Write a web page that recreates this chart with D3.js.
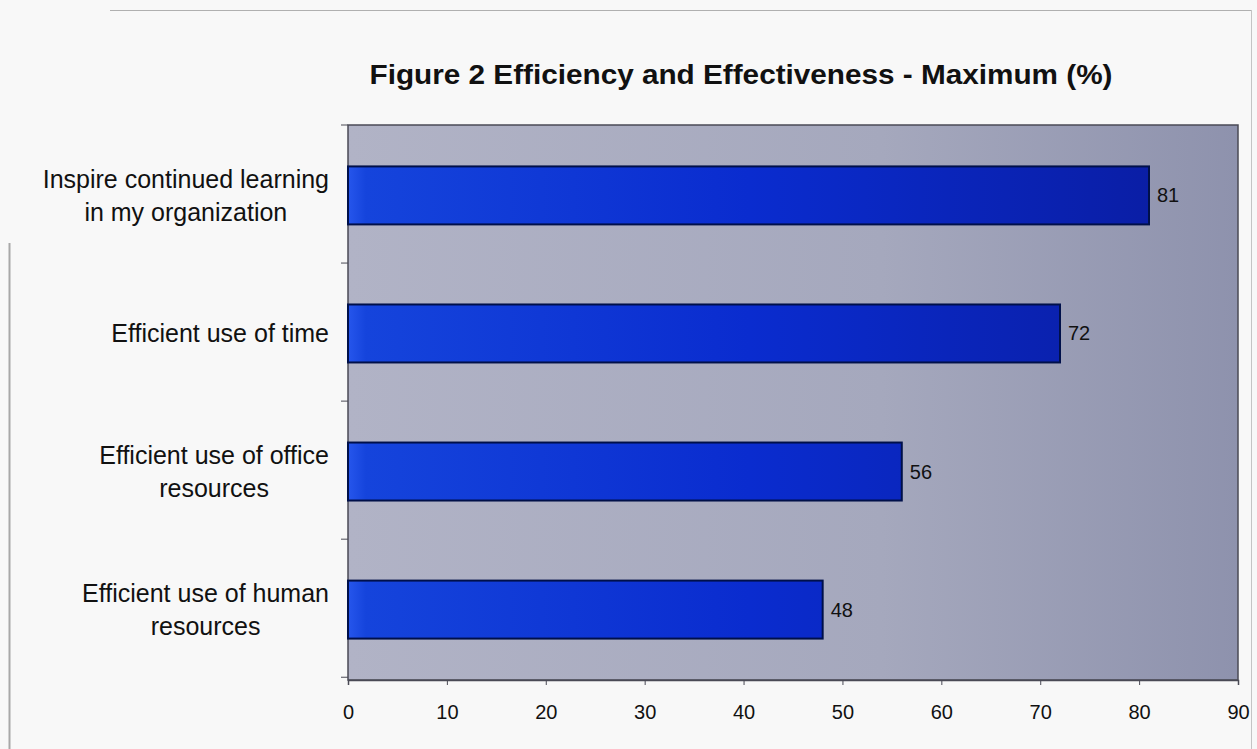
<!DOCTYPE html>
<html>
<head>
<meta charset="utf-8">
<script src="https://cdn.jsdelivr.net/npm/d3@7"></script>
<style>
  html, body { margin: 0; padding: 0; background: #f8f8f8; }
  svg { display: block; }
  text { font-family: "Liberation Sans", Arial, sans-serif; fill: #111; }
</style>
</head>
<body>
<svg id="chart" width="1257" height="749"></svg>
<script>
// Survey results: share of respondents rating each item at maximum
const categories = [
  ["Inspire continued learning", "in my organization"],
  ["Efficient use of time"],
  ["Efficient use of office", "resources"],
  ["Efficient use of human", "resources"]
];
const values = [81, 72, 56, 48];
const xTicks = [0, 10, 20, 30, 40, 50, 60, 70, 80, 90];
const title = "Figure 2 Efficiency and Effectiveness - Maximum (%)";

const plot = { left: 348, top: 125, right: 1238, bottom: 680 };

const svg = d3.select("#chart");
const defs = svg.append("defs");

const bgGrad = defs.append("linearGradient").attr("id", "bgGrad")
  .attr("x1", "0%").attr("x2", "100%").attr("y1", "0%").attr("y2", "0%");
bgGrad.append("stop").attr("offset", "0%").attr("stop-color", "#b1b3c6");
bgGrad.append("stop").attr("offset", "60%").attr("stop-color", "#a5a8bd");
bgGrad.append("stop").attr("offset", "100%").attr("stop-color", "#8e92ad");

const barGrad = defs.append("linearGradient").attr("id", "barGrad")
  .attr("gradientUnits", "userSpaceOnUse")
  .attr("x1", plot.left).attr("x2", plot.right).attr("y1", 0).attr("y2", 0);
barGrad.append("stop").attr("offset", "0%").attr("stop-color", "#2656ec");
barGrad.append("stop").attr("offset", "2%").attr("stop-color", "#1544dc");
barGrad.append("stop").attr("offset", "45%").attr("stop-color", "#0a2ccf");
barGrad.append("stop").attr("offset", "90%").attr("stop-color", "#0a1ea6");
barGrad.append("stop").attr("offset", "100%").attr("stop-color", "#081894");

// Outer frame of the figure
const frame = svg.append("g").attr("fill", "none");
frame.append("line").attr("x1", 110).attr("x2", 1252).attr("y1", 10.5).attr("y2", 10.5).attr("stroke", "#b0b0b0");
frame.append("line").attr("x1", 9.5).attr("x2", 9.5).attr("y1", 243).attr("y2", 749).attr("stroke", "#a8a8a8").attr("stroke-width", 2);
frame.append("line").attr("x1", 1251.5).attr("x2", 1251.5).attr("y1", 10).attr("y2", 749).attr("stroke", "#c4c4c4");

const x = d3.scaleLinear().domain([0, 90]).range([plot.left, plot.right]);
const y = d3.scaleBand()
  .domain(d3.range(categories.length))
  .range([plot.top, plot.bottom])
  .paddingInner(0.58).paddingOuter(0.3);

// Plot area
svg.append("rect")
  .attr("x", plot.left).attr("y", plot.top)
  .attr("width", plot.right - plot.left).attr("height", plot.bottom - plot.top)
  .attr("fill", "url(#bgGrad)")
  .attr("stroke", "#4a4a55").attr("stroke-width", 1.5);

// Bars
svg.append("g").selectAll("rect")
  .data(values)
  .join("rect")
  .attr("x", x(0))
  .attr("y", (d, i) => y(i))
  .attr("width", d => x(d) - x(0))
  .attr("height", y.bandwidth())
  .attr("fill", "url(#barGrad)")
  .attr("stroke", "#00104a").attr("stroke-width", 2);

// Value labels
svg.append("g").selectAll("text")
  .data(values)
  .join("text")
  .attr("x", d => x(d) + 8)
  .attr("y", (d, i) => y(i) + y.bandwidth() / 2)
  .attr("dy", "0.35em")
  .attr("font-size", 20)
  .text(d => d);

// X axis
const xAxis = svg.append("g")
  .attr("transform", `translate(0,${plot.bottom})`)
  .call(d3.axisBottom(x).tickValues(xTicks).tickSize(5).tickPadding(20).tickFormat(d3.format("d")));
xAxis.select(".domain").attr("stroke", "#4a4a55").attr("stroke-width", 1.5);
xAxis.selectAll(".tick line").attr("stroke", "#4a4a55");
xAxis.selectAll(".tick text").attr("font-size", 20).attr("fill", "#111")
  .attr("font-family", "Liberation Sans, Arial, sans-serif");

// Y axis tick marks at category boundaries
const step = y.step();
const yTickPos = d3.range(categories.length + 1).map(i => y(0) - y.paddingOuter() * step + i * step);
svg.append("g").selectAll("line")
  .data(yTickPos)
  .join("line")
  .attr("x1", plot.left - 7).attr("x2", plot.left)
  .attr("y1", d => d).attr("y2", d => d)
  .attr("stroke", "#4a4a55");

// Category labels: each block centred on itself, right edge near the axis
const labelRight = 329;
const lineH = 33;
const labelG = svg.append("g");
categories.forEach((lines, i) => {
  const cy = y(i) + y.bandwidth() / 2;
  const t = labelG.append("text")
    .attr("font-size", 25)
    .attr("text-anchor", "middle");
  lines.forEach((ln, j) => {
    t.append("tspan")
      .attr("y", cy + (j - (lines.length - 1) / 2) * lineH)
      .attr("dy", "0.35em")
      .text(ln);
  });
  // measure widest line and centre the block against the right edge
  let maxW = 0;
  t.selectAll("tspan").each(function () {
    maxW = Math.max(maxW, this.getComputedTextLength());
  });
  t.selectAll("tspan").attr("x", labelRight - maxW / 2);
});

// Title
svg.append("text")
  .attr("x", 741).attr("y", 84)
  .attr("text-anchor", "middle")
  .attr("font-size", 28).attr("font-weight", "bold")
  .attr("textLength", 743).attr("lengthAdjust", "spacingAndGlyphs")
  .text(title);
</script>
</body>
</html>
